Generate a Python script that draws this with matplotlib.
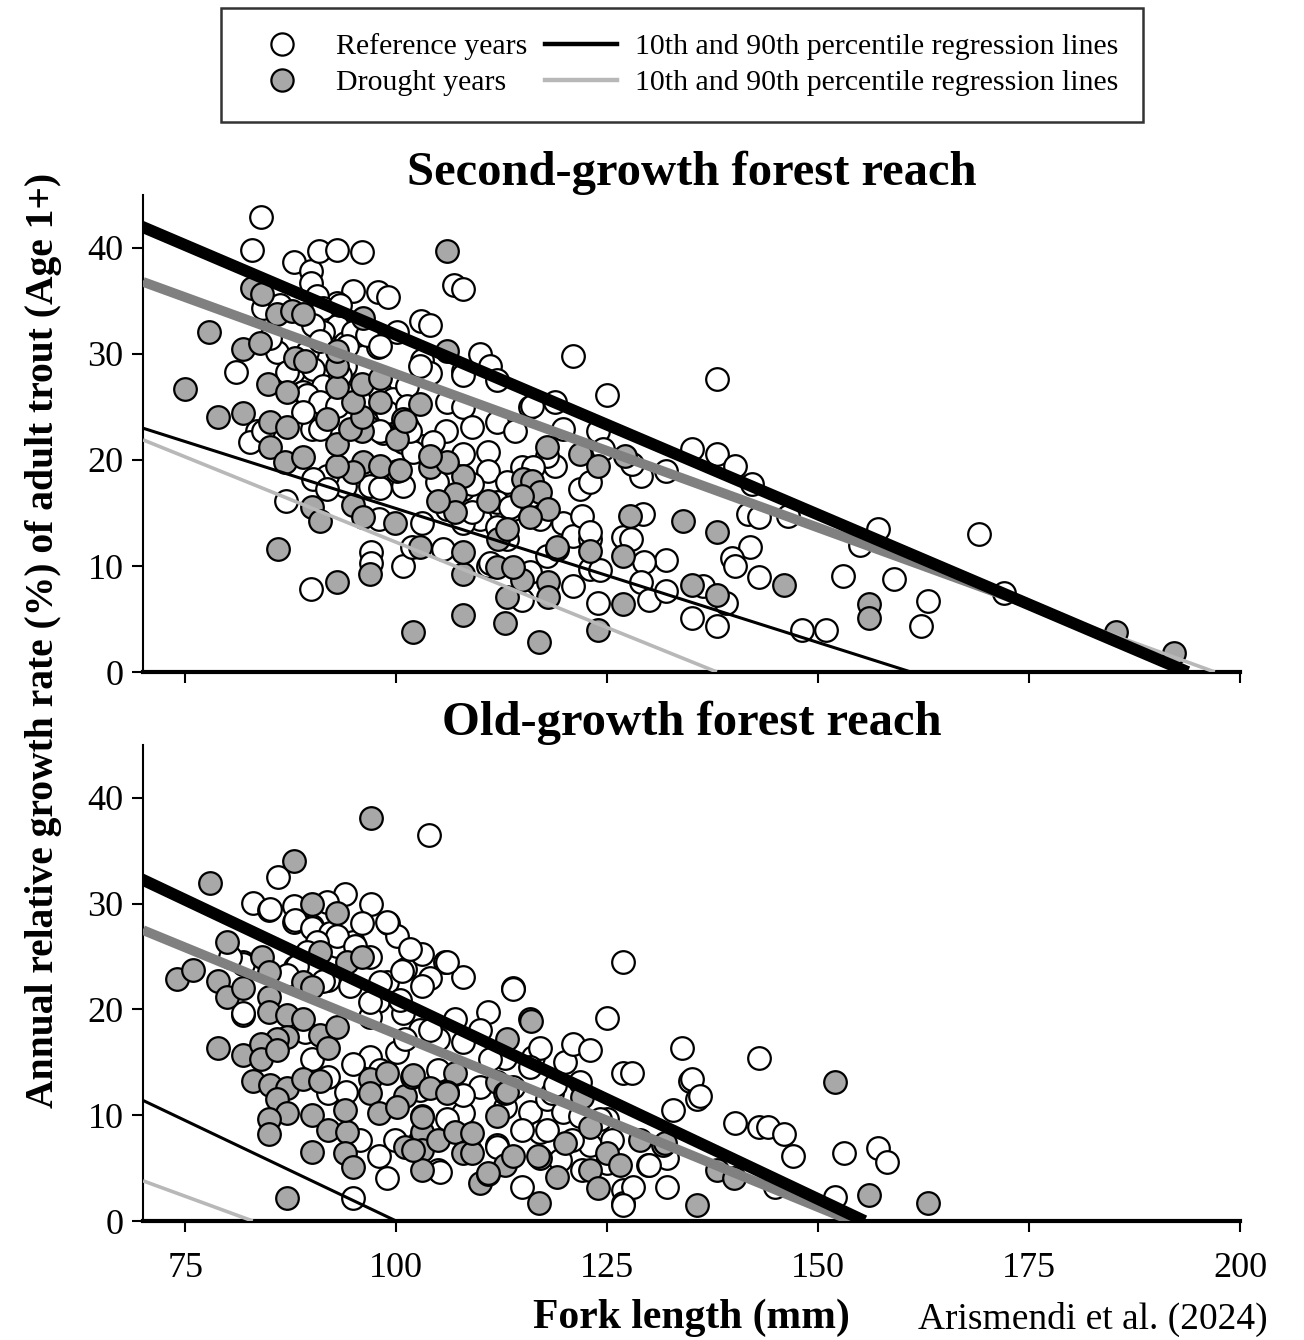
import numpy as np
import matplotlib.pyplot as plt
from matplotlib.lines import Line2D

plt.rcParams['font.family'] = ['Liberation Serif', 'DejaVu Serif']

# ---- second-growth reach: reference years (open circles)
sg_ref_x = [84.0, 82.9, 87.9, 89.9, 89.9, 90.9, 93.0, 96.0, 94.9, 97.8, 99.0, 106.8, 107.9, 102.9, 104.0,
            109.9, 120.9, 81.0, 85.0, 93.0, 93.0, 93.9, 95.4, 97.8, 100.1, 103.1, 104.0, 107.9, 111.1, 111.9,
            106.0, 107.9, 111.9, 115.9, 118.8, 119.8, 123.9, 105.9, 109.0, 103.1, 104.0, 110.9, 110.9, 118.8,
            121.8, 123.0, 114.9, 115.9, 119.8, 120.9, 123.0, 123.0, 120.9, 123.9, 126.9, 115.9, 114.9, 110.9,
            109.9, 103.1, 106.0, 98.0, 97.0, 97.0, 100.8, 101.9, 89.9, 86.9, 96.9, 93.9, 91.8, 90.1, 90.0,
            87.8, 89.0, 92.2, 91.8, 93.9, 96.1, 98.4, 98.4, 100.8, 101.3, 102.8, 107.9, 85.9, 85.0, 83.5, 82.7,
            113.1, 111.9, 111.1, 107.9, 117.9, 119.1, 124.5, 125.0, 113.1, 113.8, 117.0, 105.5, 107.9, 104.8,
            138.0, 135.0, 138.0, 140.1, 132.0, 129.0, 127.9, 142.2, 157.1, 155.0, 169.1, 172.0, 152.9, 159.0,
            163.0, 162.2, 150.9, 148.1, 138.0, 135.0, 143.0, 141.9, 139.8, 140.1, 132.0, 129.4, 127.8, 129.0,
            130.0, 132.0, 136.4, 139.1, 141.7, 143.0, 146.4, 129.2,
            116.1, 114.1, 107.9, 117.9, 116.2, 109.0, 109.0, 111.9, 122.0, 123.0, 124.1, 101.3, 102.0, 104.4,
            113.5, 100.8, 91.8, 98.1,
            84.2, 86.2, 90.6, 91.3, 93.3, 91.3, 90.1, 94.9, 96.5, 98.1, 94.2, 89.4, 91.0, 87.1, 90.1, 91.3,
            89.4, 93.3, 94.2, 91.0, 93.0, 98.1, 99.6, 98.9, 96.5, 91.0, 89.0, 84.2, 98.1, 101.3, 101.3, 101.6]
sg_ref_y = [42.9, 39.8, 38.7, 37.8, 36.7, 39.7, 39.8, 39.6, 35.9, 35.8, 35.4, 36.5, 36.1, 33.1, 32.7,
            30.0, 29.8, 28.3, 34.0, 34.8, 32.6, 31.0, 31.8, 30.7, 32.1, 29.4, 28.2, 28.4, 28.9, 27.5,
            25.5, 25.0, 23.6, 25.0, 25.5, 22.9, 22.7, 22.7, 23.1, 21.3, 20.4, 20.8, 19.0, 19.4,
            17.3, 17.9, 19.3, 16.6, 14.1, 12.8, 12.5, 9.7, 8.1, 6.5, 12.7, 9.4, 6.8, 10.0,
            14.4, 14.1, 15.4, 14.4, 11.3, 10.3, 10.0, 11.8, 7.8, 16.1, 17.5, 17.5, 18.5, 18.2, 22.9,
            28.3, 26.4, 25.1, 23.9, 28.9, 25.8, 25.1, 22.5, 21.7, 23.2, 28.9, 28.0, 30.2, 31.5, 22.7, 21.7,
            12.5, 13.7, 10.3, 14.1, 10.9, 11.6, 21.0, 26.1, 17.9, 15.4, 14.4, 11.6, 17.3, 17.9,
            27.6, 21.0, 20.6, 19.4, 19.0, 18.5, 19.6, 17.7, 13.5, 12.0, 13.0, 7.5, 9.1, 8.8,
            6.7, 4.3, 4.0, 4.0, 4.3, 5.1, 9.0, 11.8, 10.8, 10.0, 10.6, 10.4, 12.5, 8.5,
            6.8, 7.6, 8.1, 6.5, 14.9, 14.6, 14.7, 14.9,
            25.1, 22.7, 20.6, 20.4, 19.3, 17.7, 15.1, 16.0, 14.7, 13.2, 9.6, 22.2, 20.8, 21.7,
            15.6, 17.5, 17.3, 17.4,
            34.3, 34.6, 35.5, 34.3, 34.6, 32.1, 32.7, 32.1, 31.8, 30.8, 30.8, 30.2, 31.2, 28.3, 28.6, 27.0,
            26.1, 28.0, 26.1, 25.5, 25.1, 26.4, 25.8, 24.5, 23.2, 22.9, 24.5, 22.7, 22.7, 27.0, 25.1, 22.7]

# ---- second-growth reach: drought years (grey circles)
sg_dry_x = [82.9, 84.1, 77.8, 75.0, 78.9, 81.8, 81.8, 83.9, 85.9, 87.7, 89.0, 96.1, 88.0, 89.2, 84.8,
            87.1, 85.0, 87.1, 85.0, 86.8, 89.0, 86.0, 90.0, 91.0, 93.0, 96.9, 102.0, 107.9, 107.9, 107.9,
            112.9, 116.9, 123.9, 111.9, 113.1, 114.9, 118.0, 118.0, 126.9, 126.9, 123.0, 119.1, 115.0, 116.1,
            117.0, 118.0, 114.9, 110.9, 107.9, 107.0, 107.0, 105.0, 104.0, 106.0, 100.1, 100.1, 96.1, 98.1,
            94.9, 93.0, 94.9, 96.1, 99.9, 93.0, 95.9, 91.8, 94.5, 95.9, 98.1, 94.9, 93.0, 95.9, 98.1, 93.0,
            93.0, 100.8, 102.8, 101.0, 106.0, 106.0, 121.8, 123.9, 117.9, 127.7, 134.0, 138.0, 145.9, 156.0,
            156.0, 135.0, 138.0, 185.3, 192.2, 127.1, 113.8, 112.1, 113.1, 102.8, 115.9, 100.5, 104.0]
sg_dry_y = [36.2, 35.7, 32.1, 26.7, 24.1, 24.4, 30.5, 31.0, 33.8, 34.1, 33.8, 33.4, 29.6, 29.3, 27.2,
            26.4, 23.6, 23.1, 21.2, 19.8, 20.3, 11.6, 15.6, 14.2, 8.5, 9.2, 3.8, 5.4, 9.2, 11.3,
            4.6, 2.8, 4.0, 9.9, 7.1, 8.7, 8.5, 7.1, 6.4, 10.9, 11.4, 11.8, 18.2, 18.0,
            17.0, 15.4, 16.6, 16.1, 18.5, 16.8, 15.1, 16.1, 19.3, 19.8, 19.0, 22.0, 19.8, 19.4,
            18.9, 19.4, 15.8, 14.6, 14.1, 21.5, 22.7, 23.9, 22.9, 24.1, 25.5, 25.5, 26.9, 27.2, 27.7, 28.9,
            30.3, 23.9, 25.3, 23.7, 30.3, 39.7, 20.6, 19.4, 21.2, 14.7, 14.2, 13.2, 8.2, 6.4,
            5.1, 8.2, 7.3, 3.8, 1.8, 20.4, 9.9, 12.5, 13.5, 11.8, 14.6, 19.1, 20.4]

# ---- old-growth reach: reference years
og_ref_x = [103.9, 86.0, 83.0, 84.9, 87.9, 93.9, 97.0, 87.9, 90.0, 91.9, 94.9, 95.9, 99.0, 100.1, 102.0,
            105.8, 107.9, 104.0, 101.0, 103.1, 113.8, 110.9, 125.0, 126.9, 81.8, 81.8, 88.0, 91.9, 93.0,
            96.9, 98.9, 97.8, 96.9, 100.8, 102.8, 105.0, 107.9, 109.9, 112.9, 116.2, 120.0, 120.9, 123.0,
            126.9, 125.0, 123.0, 122.0, 126.9, 126.9, 114.9, 111.9, 115.9, 117.0, 109.9, 107.9, 105.0,
            98.9, 98.0, 94.9, 91.9, 91.9, 96.9, 100.1, 94.9, 90.0, 89.2, 102.8, 113.8, 117.9, 119.8, 121.8,
            125.0, 113.8, 103.1, 106.0, 117.0, 118.5, 117.9, 121.8, 105.2, 111.9, 115.9, 127.9, 133.9,
            134.8, 135.6, 132.8, 129.8, 132.1, 132.1, 128.1, 126.9, 143.0, 135.0, 136.0, 140.1, 143.0,
            144.1, 145.9, 147.0, 153.1, 157.1, 158.2, 144.9, 152.0, 129.9,
            85.0, 88.0, 90.0, 92.2, 98.9, 91.8, 93.0, 95.1, 100.7, 101.6, 90.6, 89.4, 88.2, 81.8, 80.3,
            87.1, 91.3, 94.5, 98.1, 81.8, 100.5, 96.9,
            104.0, 107.0, 105.0, 107.9, 111.1, 112.9, 114.9, 106.0, 102.8, 118.8, 120.8, 124.1, 125.6,
            119.4, 108.7, 99.9, 95.7, 94.0, 98.1, 101.0]
og_ref_y = [36.5, 32.5, 30.1, 29.4, 29.8, 30.9, 30.0, 28.3, 27.9, 27.1, 26.4, 28.2, 28.2, 26.9, 25.4,
            24.5, 23.1, 23.0, 23.8, 22.2, 22.0, 19.8, 19.2, 24.5, 24.5, 19.5, 24.0, 22.8, 26.0,
            25.0, 22.6, 20.8, 19.3, 19.7, 18.1, 17.2, 16.9, 18.1, 15.4, 15.5, 15.0, 16.7, 16.2,
            14.0, 9.6, 7.2, 4.8, 2.9, 1.7, 3.2, 7.2, 10.3, 8.4, 12.7, 10.2, 4.8,
            4.1, 6.1, 2.2, 12.1, 13.6, 15.5, 16.0, 14.8, 15.3, 17.9, 12.4, 12.7, 11.5, 10.3, 13.1,
            5.5, 21.9, 25.2, 24.5, 16.4, 12.1, 8.6, 9.9, 4.6, 7.0, 14.6, 14.0, 16.4,
            13.2, 11.5, 10.5, 5.3, 6.0, 3.2, 3.2, 1.5, 15.4, 13.4, 11.8, 9.3, 8.9,
            8.9, 8.2, 6.1, 6.4, 6.9, 5.6, 3.2, 2.3, 5.3,
            29.5, 28.5, 27.7, 27.2, 28.3, 30.2, 26.9, 26.0, 23.6, 25.7, 26.4, 25.4, 24.1, 24.3, 25.0,
            23.3, 22.7, 22.2, 22.6, 19.7, 20.9, 20.7,
            18.1, 19.1, 14.3, 11.9, 15.3, 10.8, 8.6, 9.6, 7.7, 12.9, 7.7, 9.6, 7.7,
            5.8, 6.7, 7.7, 7.7, 12.2, 14.3, 17.2]

# ---- old-growth reach: drought years
og_dry_x = [97.0, 87.9, 77.9, 90.0, 93.0, 80.0, 74.0, 75.9, 78.9, 80.0, 81.8, 84.1, 84.9, 84.9, 84.9,
            87.1, 89.0, 87.1, 85.9, 91.0, 93.0, 91.9, 91.0, 94.2, 95.9, 89.0, 90.0, 78.9, 81.8, 84.0,
            84.0, 85.9, 83.0, 85.0, 87.1, 89.0, 91.0, 85.9, 87.1, 84.9, 84.9, 90.0, 91.9, 94.2, 90.0,
            93.9, 94.9, 87.1, 93.9, 96.9, 96.9, 98.0, 98.9, 101.0, 101.9, 103.1, 103.1, 103.1, 103.1,
            101.0, 105.0, 107.0, 106.0, 107.0, 107.9, 109.0, 109.9, 110.9, 111.9, 112.9, 111.9, 113.1,
            112.9, 113.8, 115.9, 116.9, 117.0, 119.1, 120.0, 122.0, 123.0, 123.0, 123.9, 125.0, 126.5,
            100.1, 102.0, 116.0, 102.0, 104.0, 106.0, 113.1, 103.1, 109.0, 110.9, 116.8, 128.9, 131.6,
            135.6, 152.0, 156.0, 163.0, 138.0, 140.0, 131.9]
og_dry_y = [38.1, 34.0, 32.0, 30.0, 29.1, 26.4, 22.9, 23.7, 22.7, 21.2, 22.0, 25.0, 23.5, 21.2, 19.8,
            19.5, 19.1, 17.4, 17.2, 17.6, 18.3, 16.4, 25.4, 24.5, 25.0, 22.6, 22.1, 16.4, 15.7, 16.7,
            15.3, 16.2, 13.2, 12.9, 12.6, 13.4, 13.2, 11.5, 10.2, 9.6, 8.2, 10.0, 8.6, 8.4, 6.5,
            6.4, 5.1, 2.2, 10.5, 13.4, 12.1, 10.2, 14.0, 11.8, 13.6, 9.9, 8.4, 6.7, 4.8,
            7.0, 7.7, 14.0, 12.2, 8.4, 6.4, 6.4, 3.6, 4.4, 13.1, 12.1, 9.9, 17.2,
            5.3, 6.1, 19.1, 1.7, 6.0, 4.2, 7.4, 11.7, 8.9, 4.8, 3.1, 6.4, 5.3,
            10.8, 6.7, 18.9, 13.8, 12.6, 12.1, 12.2, 9.8, 8.3, 4.5, 6.1, 7.7, 7.2,
            1.5, 13.1, 2.5, 1.7, 4.8, 4.1, 7.4]

# quantile regression lines, given by their end points (x0, y0, x1, y1)
sg_ref_q90 = [69.6, 42.1, 193.8, 0.0]
sg_ref_q10 = [70.0, 23.0, 161.0, 0.0]
sg_dry_q90 = [70.0, 36.8, 197.0, 0.0]
sg_dry_q10 = [70.0, 21.9, 138.0, 0.0]
og_ref_q90 = [69.6, 32.4, 155.5, 0.0]
og_ref_q10 = [70.0, 11.4, 100.0, 0.0]
og_dry_q90 = [70.0, 27.5, 154.0, 0.0]
og_dry_q10 = [70.0, 3.8, 83.0, 0.0]

xticks = [75, 100, 125, 150, 175, 200]
yticks = [0, 10, 20, 30, 40]

grey_fill = '#a8a8a8'
mid_grey = '#808080'
light_grey = '#b8b8b8'

fig = plt.figure(figsize=(13.04, 13.40), dpi=100)
ax1 = fig.add_axes([0.1097, 0.4985, 0.8413, 0.356])
ax2 = fig.add_axes([0.1097, 0.0888, 0.8413, 0.3552])


def qline(ax, seg, color, lw, z, xmax=None):
    x0, y0, x1, y1 = seg
    xe = x1 if xmax is None else xmax
    ye = y0 + (y1 - y0) * (xe - x0) / (x1 - x0)
    ax.plot([x0, xe], [y0, ye], color=color, lw=lw, solid_capstyle='butt', zorder=z)


def panel(ax, rx, ry, dx, dy, lines, title):
    ax.scatter(rx, ry, s=265, facecolor='white', edgecolor='black', linewidth=1.6, zorder=2)
    ax.scatter(dx, dy, s=265, facecolor=grey_fill, edgecolor='black', linewidth=1.6, zorder=2)
    r90, r10, d90, d10, d90_end = lines
    qline(ax, d10, light_grey, 2.6, 3)
    qline(ax, r10, 'black', 2.2, 3)
    qline(ax, d90, light_grey, 2.6, 3)
    qline(ax, d90, mid_grey, 7.0, 4, xmax=d90_end)
    qline(ax, r90, 'black', 8.5, 5)
    ax.set_xlim(70, 200)
    ax.set_ylim(0, 45)
    ax.set_xticks(xticks)
    ax.set_yticks(yticks)
    for s in ['top', 'right']:
        ax.spines[s].set_visible(False)
    ax.spines['left'].set_linewidth(1.5)
    ax.spines['bottom'].set_linewidth(3)
    ax.tick_params(axis='y', direction='out', length=8, width=1.5, labelsize=26, pad=6)
    ax.tick_params(axis='x', direction='out', length=8, width=1.5, labelsize=26, pad=14)
    ax.set_title(title, fontsize=35, fontweight='bold', pad=4)


panel(ax1, sg_ref_x, sg_ref_y, sg_dry_x, sg_dry_y,
      [sg_ref_q90, sg_ref_q10, sg_dry_q90, sg_dry_q10, 174.0], 'Second-growth forest reach')
panel(ax2, og_ref_x, og_ref_y, og_dry_x, og_dry_y,
      [og_ref_q90, og_ref_q10, og_dry_q90, og_dry_q10, 154.0], 'Old-growth forest reach')
ax1.tick_params(axis='x', labelbottom=False)

ax2.set_xlabel('Fork length (mm)', fontsize=30, fontweight='bold', labelpad=10)
fig.text(0.033, 0.522, 'Annual relative growth rate (%) of adult trout (Age 1+)',
         rotation=90, ha='center', va='center', fontsize=28.5, fontweight='bold')

handles = [
    Line2D([], [], ls='none', marker='o', ms=16, mfc='white', mec='black', mew=1.6),
    Line2D([], [], ls='none', marker='o', ms=16, mfc=grey_fill, mec='black', mew=1.6),
    Line2D([], [], color='black', lw=3.2),
    Line2D([], [], color=light_grey, lw=3.2),
]
labels = ['Reference years', 'Drought years',
          '10th and 90th percentile regression lines', '10th and 90th percentile regression lines']
leg = fig.legend(handles, labels, ncol=2, loc='upper center', bbox_to_anchor=(0.523, 0.994),
                 borderaxespad=0, fontsize=21.5, frameon=True, fancybox=False, edgecolor='black',
                 handlelength=2.4, handletextpad=0.6, columnspacing=0.6, labelspacing=0.3,
                 borderpad=0.85)
leg.get_frame().set_linewidth(1.8)

fig.text(0.704, 0.002, 'Arismendi et al. (2024)', fontsize=27, ha='left', va='bottom')

fig.savefig('out.png', dpi=100)
